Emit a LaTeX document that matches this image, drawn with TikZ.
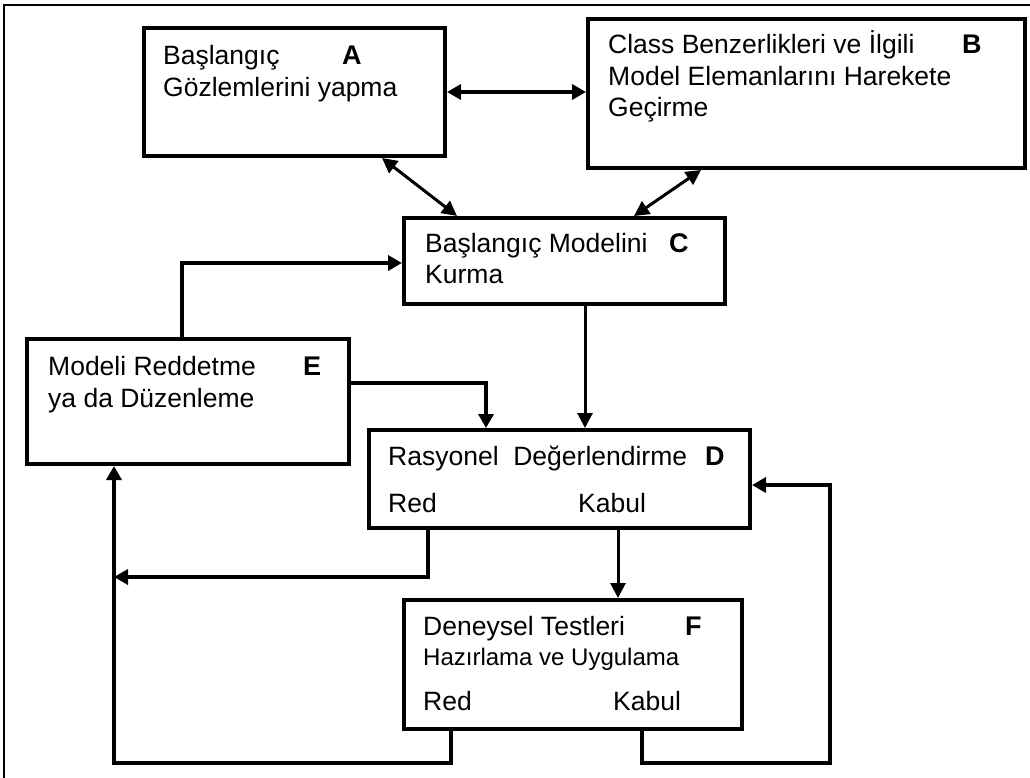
\documentclass[tikz,border=0pt]{standalone}
\usepackage{fontspec}
\setmainfont{Liberation Sans}
\usetikzlibrary{arrows.meta,calc,shadows}
\begin{document}
\begin{tikzpicture}[x=1pt,y=-1pt,
  box/.style={draw=black,line width=4pt,fill=white,anchor=north west,inner sep=0pt,
    drop shadow={shadow xshift=1.5pt,shadow yshift=-1.5pt,fill=black!45,opacity=1}},
  txt/.style={anchor=base west,inner sep=0pt,font=\fontsize{26.5}{30}\selectfont},
  small/.style={anchor=base west,inner sep=0pt,font=\fontsize{24}{27}\selectfont},
  tag/.style={anchor=base west,inner sep=0pt,font=\fontsize{27}{30}\selectfont\bfseries},
  heavy/.style={line width=4.5pt,-{Triangle[length=14pt,width=15pt]}},
  light/.style={line width=3pt,-{Triangle[length=15pt,width=15pt]}},
  lighttwo/.style={line width=3pt,{Triangle[length=15pt,width=15pt]}-{Triangle[length=15pt,width=15pt]}},
  heavytwo/.style={line width=4.5pt,{Triangle[length=14pt,width=15pt]}-{Triangle[length=14pt,width=15pt]}}]
\useasboundingbox (0,0) rectangle (1030,778);
\fill[white] (0,0) rectangle (1030,778);

% page frame (top and left edges)
\draw[line width=1.5pt] (4,778) -- (4,5) -- (1030,5);

% boxes
\node[box,minimum width=301pt,minimum height=128pt] (A) at (142,26) {};
\node[box,minimum width=437pt,minimum height=149pt] (B) at (586,17) {};
\node[box,minimum width=321pt,minimum height=86pt]  (C) at (402,216) {};
\node[box,minimum width=322pt,minimum height=125pt] (E) at (25,337) {};
\node[box,minimum width=381pt,minimum height=98pt]  (D) at (367,428) {};
\node[box,minimum width=338pt,minimum height=129pt] (F) at (402,598) {};

% texts
\node[txt] (a1) at (163,65) {Başlangıç};
\node[tag] (a2) at (342,65) {A};
\node[txt] (a3) at (163,97) {Gözlemlerini yapma};

\node[txt] (b1) at (608,54) {Class Benzerlikleri ve İlgili};
\node[tag] (b2) at (962,54) {B};
\node[txt] (b3) at (608,86) {Model Elemanlarını Harekete};
\node[txt] (b4) at (608,117) {Geçirme};

\node[txt] (c1) at (425,252) {Başlangıç Modelini};
\node[tag] (c2) at (669,252) {C};
\node[txt] (c3) at (425,283) {Kurma};

\node[txt] (e1) at (48,375) {Modeli Reddetme};
\node[tag] (e2) at (303,375) {E};
\node[txt] (e3) at (48,407) {ya da Düzenleme};

\node[txt] (d1) at (388,465) {Rasyonel\ \ Değerlendirme};
\node[tag] (d2) at (705,465) {D};
\node[txt] (d3) at (388,512) {Red};
\node[txt] (d4) at (578,512) {Kabul};

\node[txt] (f1) at (423,635) {Deneysel Testleri};
\node[tag] (f2) at (685,635) {F};
\node[small] (f3) at (423,665) {Hazırlama ve Uygulama};
\node[txt] (f4) at (423,710) {Red};
\node[txt] (f5) at (613,710) {Kabul};

% junction and corner points of the return paths
\coordinate (redjoin) at (114,577);
\coordinate (loopL) at (114,763);
\coordinate (loopR) at (830,763);

% connectors
\draw[heavytwo] (A.east |- 0,92) -- (B.west |- 0,92);
\draw[lighttwo] ($(A.south west)+(240,0)$) -- ($(C.north west)+(55,0)$);
\draw[lighttwo] ($(B.south west)+(115,0)$) -- ($(C.north west)+(232,0)$);
\draw[heavy] (E.north -| 182,0) |- (C.west |- 0,263);
\draw[heavy] (E.east |- 0,383) -| (D.north -| 486,0);
\draw[light] (C.south -| 585,0) -- (D.north -| 585,0);
\draw[heavy] (D.south -| 428,0) |- (redjoin);
\draw[light] (D.south -| 618,0) -- (F.north -| 618,0);
\draw[heavy] (F.south -| 451,0) |- (loopL) -- (E.south -| loopL);
\draw[heavy] (F.south -| 642,0) |- (loopR) |- (D.east |- 0,485);
\end{tikzpicture}
\end{document}
